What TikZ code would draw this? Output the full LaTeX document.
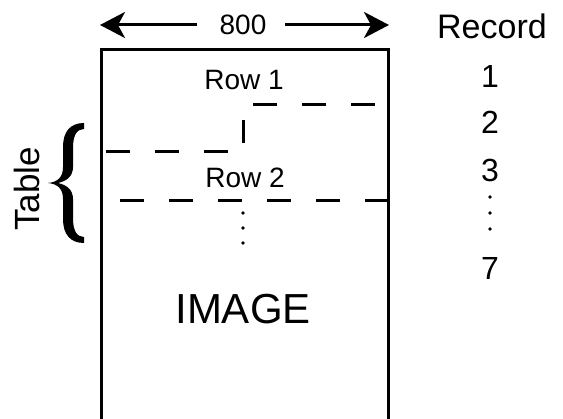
\documentclass[tikz,border=0pt]{standalone}
\usepackage{fontspec}
\setmainfont{Liberation Sans}
\usetikzlibrary{arrows.meta}
\begin{document}
\begin{tikzpicture}[x=1pt,y=-1pt,
  frame/.style={line width=3pt},
  dashline/.style={line width=3pt,dash pattern=on 24pt off 25pt},
  dimarrow/.style={line width=3pt,-{Stealth[length=25pt,width=26pt,inset=7pt]}},
  lbl/.style={inner sep=0pt,font=\fontsize{28}{30}\selectfont},
  num/.style={inner sep=0pt,font=\fontsize{32}{34}\selectfont},
  dot/.style={circle,fill=black,inner sep=0pt,minimum size=3.6pt}]
\useasboundingbox (0,0) rectangle (563,419);
% frame (open at bottom)
\coordinate (bl) at (101,425);
\coordinate (tl) at (101,50);
\coordinate (tr) at (388,50);
\coordinate (br) at (388,425);
\draw[frame] (bl) -- (tl) -- (tr) -- (br);
% width dimension
\node[lbl] (w) at (243,25) {800};
\coordinate (aL) at (100,25);
\coordinate (aR) at (389,25);
\coordinate (sL) at (197,25);
\coordinate (sR) at (285,25);
\draw[dimarrow] (sL) -- (aL);
\draw[dimarrow] (sR) -- (aR);
% rows
\node[lbl] (r1) at (244,80) {Row 1};
\node[lbl] (r2) at (245,178) {Row 2};
\coordinate (d1a) at (253,105); \coordinate (d1b) at (376,105);
\draw[dashline] (d1a) -- (d1b);
\coordinate (v1) at (243,120); \coordinate (v2) at (243,143);
\draw[line width=3pt] (v1) -- (v2);
\coordinate (d2a) at (106,152); \coordinate (d2b) at (229,152);
\draw[dashline] (d2a) -- (d2b);
\coordinate (d3a) at (120,201); \coordinate (d3b) at (388,201);
\draw[dashline] (d3a) -- (d3b);
\node[dot] (p1) at (243,213) {};
\node[dot] (p2) at (243,228) {};
\node[dot] (p3) at (243,243) {};
% image
\node[inner sep=0pt,font=\fontsize{42}{44}\selectfont] (img) at (243,309) {IMAGE};
% table brace
\node[inner sep=0pt,rotate=90,font=\fontsize{35}{37}\selectfont] (tab) at (27,189) {Table};
\fill (48,183) .. controls (58,182) and (63,177) .. (63,167)
  -- (63,147) .. controls (63,132) and (70,123) .. (84,123)
  -- (84,129) .. controls (77,129) and (73,135) .. (73,148)
  -- (73,167) .. controls (73,176) and (67,181) .. (58,183)
  .. controls (67,185) and (73,190) .. (73,199)
  -- (73,218) .. controls (73,231) and (77,237) .. (84,237)
  -- (84,243) .. controls (70,243) and (63,234) .. (63,219)
  -- (63,199) .. controls (63,189) and (58,184) .. (48,183) -- cycle;
% record column
\node[inner sep=0pt,font=\fontsize{34}{36}\selectfont] (rec) at (492,26) {Record};
\node[num] (n1) at (490,76) {1};
\node[num] (n2) at (490,122) {2};
\node[num] (n3) at (490,170) {3};
\node[dot] (q1) at (490,197) {};
\node[dot] (q2) at (490,213) {};
\node[dot] (q3) at (490,229) {};
\node[num] (n7) at (490,268) {7};
\end{tikzpicture}
\end{document}
